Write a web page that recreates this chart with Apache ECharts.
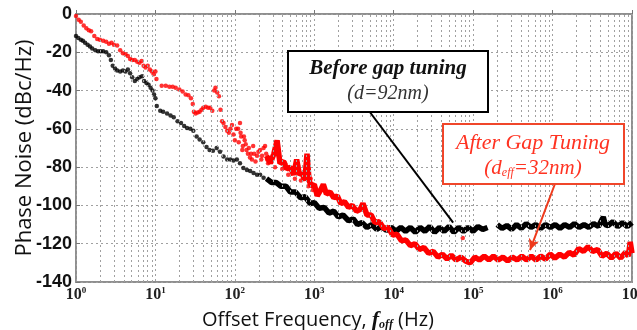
<!DOCTYPE html>
<html>
<head>
<meta charset="utf-8">
<script src="https://cdn.jsdelivr.net/npm/echarts@6/dist/echarts.min.js"></script>
<style>
  html, body { margin: 0; padding: 0; background: #fff; }
  #chart { width: 637px; height: 330px; }
</style>
</head>
<body>
<div id="chart"></div>
<script>
// y ticks (dBc/Hz)
const yMin = -140
const yMax = 0
const yStep = 20

// minor grid positions on the log axis (2..9 of every decade)
const decades = [1, 10, 100, 1000, 1e4, 1e5, 1e6]
const minorSteps = [2, 3, 4, 5, 6, 7, 8, 9]

// after gap tuning (red) - sparse dots at low offsets
const redDots = [
  [1.0, -1], [1.08, -3], [1.15, -4], [1.25, -6], [1.35, -7.5], [1.45, -8.5], [1.55, -9],
  [1.7, -11.5], [1.85, -13], [2.0, -13.5], [2.2, -14], [2.4, -14.5], [2.6, -15.5], [2.8, -15],
  [3.0, -16], [3.3, -16.5], [3.6, -19], [3.9, -20.5], [4.2, -21], [4.5, -22], [4.8, -23.5],
  [5.1, -24], [5.5, -24], [5.9, -25], [6.3, -25.5], [6.7, -24.5], [7.1, -27], [7.5, -28],
  [8.0, -27], [8.5, -29], [9.0, -30], [9.5, -31.5], [10, -30], [10.3, -34],
  [12, -37.5], [13.5, -37.5], [15, -38], [16.5, -38], [18, -38.5], [20, -39.5], [22, -40.5],
  [24, -42], [26, -42.5], [28, -44], [29.5, -47], [30.5, -51], [32, -52], [34, -51.5],
  [36, -51], [38, -50], [40, -49], [43, -48.5], [46, -49], [49, -49], [52, -50.5],
  [55, -40], [57, -38.5], [60, -41], [63, -43], [66, -50], [69, -56], [72, -57], [76, -59],
  [80, -61], [84, -62], [88, -60], [92, -58], [96, -63], [100, -66], [104, -60], [110, -60],
  [112, -67], [116, -57], [118, -62], [120, -64], [124, -71], [126, -69], [130, -64],
  [133, -66], [137, -68], [140, -71], [146, -73], [150, -70], [155, -75], [160, -73],
  [164, -76], [170, -69], [175, -73], [182, -77], [190, -74], [198, -72], [208, -71],
  [215, -76], [220, -74], [230, -70], [240, -69], [248, -73], [255, -76], [262, -78],
  [290, -75], [320, -80], [355, -74], [395, -81], [430, -78], [470, -84], [520, -81],
  [570, -86], [620, -79], [680, -87], [740, -84], [790, -76], [840, -90], [900, -86],
  [960, -92], [74000, -117]
]
// after gap tuning (red) - dense trace
const redBand = [
  [250, -74], [280, -78], [310, -73], [340, -66], [370, -78], [410, -77], [450, -81],
  [500, -80], [550, -84], [600, -76], [650, -84], [700, -83], [760, -87], [810, -73],
  [860, -87], [920, -90], [1000, -89], [1090, -95], [1200, -92], [1300, -89], [1420, -94],
  [1580, -93], [1760, -96], [1950, -95], [2150, -99], [2400, -98], [2700, -101], [3000, -100],
  [3400, -103], [3800, -102], [4100, -99], [4600, -105], [5200, -105], [5800, -109],
  [6600, -108.5], [7500, -112], [8500, -111.5], [9700, -115.5], [11000, -115], [12500, -118.5],
  [14200, -118], [16200, -121], [18500, -120], [21000, -123], [24000, -122], [27500, -125],
  [31500, -124], [36000, -127], [41000, -125.5], [47000, -128], [53000, -126], [61000, -128.5],
  [70000, -127], [80000, -129], [92000, -130], [105000, -127], [120000, -128.5],
  [138000, -126.5], [158000, -128.5], [180000, -126.5], [207000, -128.5], [237000, -127],
  [272000, -129], [312000, -127], [358000, -128.5], [410000, -126.5], [470000, -128.5],
  [540000, -126.5], [620000, -128.5], [710000, -126.5], [815000, -128], [935000, -125.5],
  [1.07e6, -127.5], [1.23e6, -125.5], [1.41e6, -127], [1.62e6, -124.5], [1.86e6, -126],
  [2.13e6, -122.5], [2.45e6, -124], [2.8e6, -121.5], [3.2e6, -124], [3.7e6, -123],
  [4.2e6, -126.5], [4.8e6, -125], [5.5e6, -127.5], [6.3e6, -125], [7.2e6, -127.5],
  [8.3e6, -124.5], [9e6, -126.5], [9.5e6, -119], [1e7, -125]
]

// before gap tuning (black) - sparse dots
const blackDots = [
  [1.0, -11.5], [1.07, -12.5], [1.15, -13.5], [1.22, -14], [1.3, -15], [1.4, -16], [1.5, -17],
  [1.6, -18], [1.75, -19], [1.9, -19.5], [2.05, -19.5], [2.2, -19.5], [2.4, -20], [2.6, -21.5],
  [2.75, -24], [2.9, -27], [3.1, -28.5], [3.3, -29.5], [3.6, -30], [3.9, -29.5], [4.2, -30],
  [4.5, -29], [4.8, -31], [5.1, -33], [5.5, -35], [5.9, -34], [6.3, -33], [6.8, -32.5],
  [7.2, -35], [7.7, -36], [8.2, -37], [8.7, -38.5], [9.2, -40], [9.6, -42], [10, -44],
  [10.4, -48], [11.5, -50.5], [12.5, -51], [14, -52], [15.5, -53], [17, -54], [19, -56],
  [21, -57], [23, -58.5], [25, -59.5], [27.5, -60], [30, -61], [33, -64], [36, -65.5],
  [40, -67], [44, -69.5], [48, -71], [53, -71.5], [59, -70], [65, -72], [72, -74.5],
  [80, -76], [88, -76], [96, -76.5], [106, -76], [116, -78], [128, -80.5], [142, -81.5],
  [156, -82], [172, -83], [190, -84], [208, -84], [230, -85.5]
]
// before gap tuning (black) - dense trace, '-' marks the gap in the record
const blackBand = [
  [250, -86], [290, -88], [330, -88], [380, -90], [440, -90], [500, -93], [580, -93],
  [670, -96], [770, -95.5], [890, -99], [1000, -98.5], [1150, -101.5], [1330, -101],
  [1530, -104], [1760, -103], [2000, -106], [2300, -105], [2700, -108], [3100, -107],
  [3500, -110], [4000, -109], [4600, -111.5], [5300, -110], [6100, -112.5], [7000, -111],
  [8100, -113], [9300, -111.5], [10700, -113.5], [12300, -111.5], [14100, -113.5],
  [16200, -111.5], [18700, -114], [21500, -111.5], [24700, -113.5], [28400, -111],
  [32700, -114], [37600, -111.5], [43200, -113.5], [49700, -111], [57100, -114],
  [65700, -111.5], [75500, -113.5], [86800, -111.5], [99800, -113.5], [115000, -111],
  [132000, -112.5], [152000, -111.5], [175000, '-'],
  [201000, -110], [231000, -112], [266000, -110.5], [306000, -112.5], [352000, -110],
  [405000, -112], [465000, -109.5], [535000, -111.5], [615000, -110], [708000, -112],
  [814000, -110], [936000, -111.5], [1.08e6, -110], [1.24e6, -112], [1.42e6, -110],
  [1.64e6, -111.5], [1.88e6, -109.5], [2.16e6, -111.5], [2.49e6, -110], [2.86e6, -111.5],
  [3.29e6, -109.5], [3.78e6, -111], [4.35e6, -106], [4.6e6, -110], [5e6, -110.5],
  [5.75e6, -108.5], [6.61e6, -111], [7.6e6, -109], [8.74e6, -111], [1e7, -109]
]

// annotation leader lines (data coords)
const blackLeader = [[5000, -51.2], [56000, -109]]
const redLeader = [[1.07e6, -88.8], [5.2e5, -123.3]]

const minorX = []
decades.forEach((d) => minorSteps.forEach((m) => minorX.push(m * d)))

const chart = echarts.init(document.getElementById('chart'))

const gridDots = { color: '#a0a0a0', width: 1, type: [2, 3] }

const option = {
  animation: false,
  grid: {
    left: 76,
    right: 5,
    top: 14,
    bottom: 48,
    outerBoundsMode: 'none',
    show: true,
    borderColor: '#8f8f8f',
    borderWidth: 2,
    backgroundColor: 'transparent',
  },
  xAxis: {
    type: 'log',
    logBase: 10,
    min: 1,
    max: 1e7,
    axisLine: { show: false },
    axisTick: { show: true, inside: true, length: 4, lineStyle: { color: '#777' } },
    splitLine: { show: true, lineStyle: gridDots },
    axisLabel: {
      margin: 4,
      formatter: (v) => '{b|10}{s|' + Math.round(Math.log10(v)) + '}',
      rich: {
        b: { fontFamily: 'Liberation Serif', fontWeight: 'bold', fontSize: 16, color: '#222', lineHeight: 18 },
        s: { fontFamily: 'Liberation Serif', fontWeight: 'bold', fontSize: 9, color: '#222', verticalAlign: 'top', lineHeight: 18 },
      },
    },
    name: 'Offset Frequency, {i|f}{sub|off} (Hz)',
    nameLocation: 'middle',
    nameGap: 27,
    nameMoveOverlap: false,
    nameTextStyle: {
      fontFamily: 'Open Sans',
      fontSize: 20,
      color: '#111',
      verticalAlign: 'top',
      padding: [0, 72, 0, 0],
      rich: {
        i: { fontFamily: 'Liberation Serif', fontStyle: 'italic', fontWeight: 'bold', fontSize: 22, color: '#111' },
        sub: { fontFamily: 'Liberation Serif', fontStyle: 'italic', fontWeight: 'bold', fontSize: 12, color: '#111', verticalAlign: 'bottom', padding: [8, 0, 0, 0] },
      },
    },
  },
  yAxis: {
    type: 'value',
    min: yMin,
    max: yMax,
    interval: yStep,
    axisLine: { show: false },
    axisTick: { show: true, inside: true, length: 4, lineStyle: { color: '#777' } },
    splitLine: { show: true, lineStyle: gridDots },
    axisLabel: {
      margin: 4,
      fontFamily: 'Liberation Sans',
      fontWeight: 'bold',
      fontSize: 18,
      color: '#111',
    },
    name: 'Phase Noise (dBc/Hz)',
    nameLocation: 'middle',
    nameRotate: 90,
    nameGap: 40,
    nameMoveOverlap: false,
    nameTextStyle: {
      fontFamily: 'Open Sans',
      fontSize: 22,
      color: '#111',
    },
  },
  series: [
    {
      // minor vertical grid
      type: 'line',
      data: [],
      z: 1,
      silent: true,
      markLine: {
        silent: true,
        symbol: 'none',
        label: { show: false },
        lineStyle: gridDots,
        data: minorX.map((v) => ({ xAxis: v })),
      },
    },
    {
      name: 'Before',
      type: 'line',
      data: blackBand,
      z: 3,
      showSymbol: false,
      connectNulls: false,
      lineStyle: { color: '#000', width: 5.5 },
    },
    {
      name: 'BeforeDots',
      type: 'scatter',
      data: blackDots,
      z: 3,
      symbolSize: 4.5,
      itemStyle: { color: '#000' },
    },
    {
      name: 'After',
      type: 'line',
      data: redBand,
      z: 4,
      showSymbol: false,
      lineStyle: { color: '#ff0000', width: 5.5 },
      markLine: {
        silent: true,
        label: { show: false },
        data: [
          [
            { coord: blackLeader[0], symbol: 'none', lineStyle: { color: '#000', width: 2, type: 'solid' } },
            { coord: blackLeader[1], symbol: 'none' },
          ],
          [
            { coord: redLeader[0], symbol: 'none', lineStyle: { color: '#ee3a1c', width: 2, type: 'solid' } },
            { coord: redLeader[1], symbol: 'arrow', symbolSize: [8, 11] },
          ],
        ],
      },
    },
    {
      name: 'AfterDots',
      type: 'scatter',
      data: redDots,
      z: 4,
      symbolSize: 4.5,
      itemStyle: { color: '#ff0000' },
    },
  ],
  graphic: [
    {
      type: 'rect',
      z: 100,
      shape: { x: 288, y: 51, width: 200, height: 61 },
      style: { fill: '#fff', stroke: '#000', lineWidth: 2 },
    },
    {
      type: 'text',
      z: 101,
      x: 388,
      y: 69,
      style: {
        text: 'Before gap tuning',
        font: 'italic bold 21px "Liberation Serif"',
        fill: '#111',
        align: 'center',
        verticalAlign: 'middle',
      },
    },
    {
      type: 'text',
      z: 101,
      x: 388,
      y: 94,
      style: {
        text: '(d=92nm)',
        font: 'italic 20px "Liberation Serif"',
        fill: '#333',
        align: 'center',
        verticalAlign: 'middle',
      },
    },
    {
      type: 'rect',
      z: 100,
      shape: { x: 443, y: 124, width: 181, height: 60 },
      style: { fill: '#fff', stroke: '#f0462a', lineWidth: 2 },
    },
    {
      type: 'text',
      z: 101,
      x: 533,
      y: 143,
      style: {
        text: 'After Gap Tuning',
        font: 'italic 22px "Liberation Serif"',
        fill: '#ff3322',
        align: 'center',
        verticalAlign: 'middle',
      },
    },
    {
      type: 'text',
      z: 101,
      x: 533,
      y: 168,
      style: {
        text: '(d{s|eff}=32nm)',
        font: 'italic 21px "Liberation Serif"',
        fill: '#ff3322',
        align: 'center',
        verticalAlign: 'middle',
        rich: {
          s: { font: 'italic 12px "Liberation Serif"', fill: '#ff3322', verticalAlign: 'bottom', padding: [10, 0, 0, 0] },
        },
      },
    },
  ],
}

chart.setOption(option)
</script>
</body>
</html>
